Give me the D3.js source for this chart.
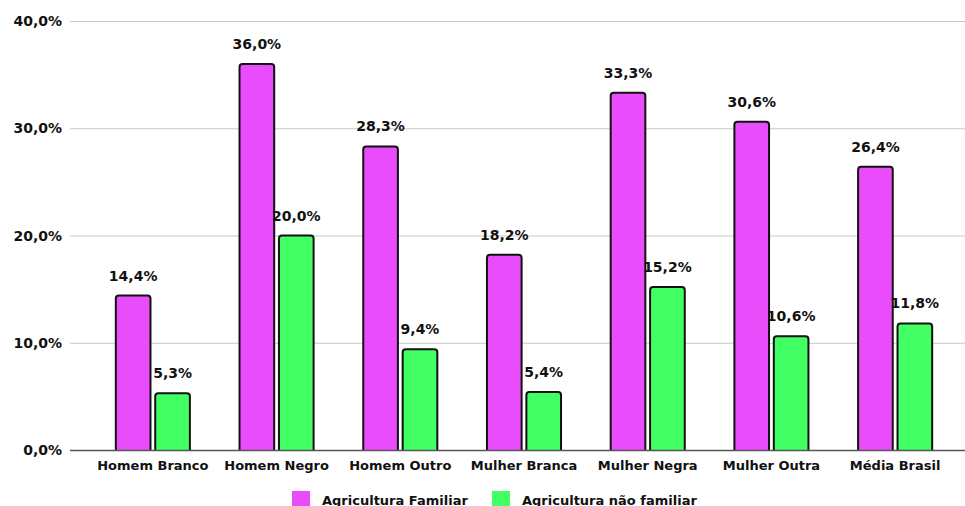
<!DOCTYPE html>
<html>
<head>
<meta charset="utf-8">
<script src="https://cdn.jsdelivr.net/npm/d3@7"></script>
<style>
  html, body { margin: 0; padding: 0; background: #fff; }
  svg { display: block; font-family: "DejaVu Sans", Verdana, sans-serif; font-weight: bold; }
</style>
</head>
<body>
<svg id="chart" width="965" height="506"></svg>
<script>
const categories = ["Homem Branco", "Homem Negro", "Homem Outro", "Mulher Branca", "Mulher Negra", "Mulher Outra", "Média Brasil"];
const seriesNames = ["Agricultura Familiar", "Agricultura não familiar"];
const familiar = [14.4, 36.0, 28.3, 18.2, 33.3, 30.6, 26.4];
const naoFamiliar = [5.3, 20.0, 9.4, 5.4, 15.2, 10.6, 11.8];
const yTicks = [0, 10, 20, 30, 40];
const colors = ["#e84cfb", "#42ff64"];

const seriesValues = [familiar, naoFamiliar];
const fmt = v => v.toFixed(1).replace(".", ",") + "%";

const svg = d3.select("#chart");
const plotLeft = 70, plotRight = 965, plotTop = 21, plotBottom = 450;

const y = d3.scaleLinear().domain([0, 40]).range([plotBottom, plotTop]);
const x0 = d3.scaleBand().domain(categories).range([91, 957]).paddingInner(0.385).paddingOuter(0.1925);
const x1 = d3.scaleBand().domain(seriesNames).range([0, x0.bandwidth()]).paddingInner(0.07);
const color = d3.scaleOrdinal().domain(seriesNames).range(colors);

// horizontal gridlines
svg.append("g").selectAll("line").data(yTicks.filter(t => t > 0)).join("line")
  .attr("x1", plotLeft).attr("x2", plotRight)
  .attr("y1", d => y(d) + 0.5).attr("y2", d => y(d) + 0.5)
  .attr("stroke", "#c8c8c8").attr("stroke-width", 1);

// y-axis labels
svg.append("g").selectAll("text").data(yTicks).join("text")
  .attr("x", 62).attr("y", d => y(d) + 5)
  .attr("text-anchor", "end").attr("font-size", 14).attr("fill", "#111")
  .text(d => fmt(d));

// grouped bars
const groups = svg.append("g").selectAll("g").data(categories).join("g")
  .attr("transform", c => `translate(${x0(c)},0)`);

const items = groups.selectAll("g.bar").data((c, i) => seriesNames.map((s, k) => ({ s, v: seriesValues[k][i] })))
  .join("g").attr("class", "bar");

items.append("path")
  .attr("d", d => {
    const bx = x1(d.s) + 1, bw = x1.bandwidth() - 2;
    const by = y(d.v), r = 3;
    return `M${bx},${plotBottom} V${by + r} Q${bx},${by} ${bx + r},${by} H${bx + bw - r} Q${bx + bw},${by} ${bx + bw},${by + r} V${plotBottom}`;
  })
  .attr("fill", d => color(d.s))
  .attr("stroke", "#111").attr("stroke-width", 2);

items.append("text")
  .attr("x", d => x1(d.s) + x1.bandwidth() / 2)
  .attr("y", d => y(d.v) - 15)
  .attr("text-anchor", "middle").attr("font-size", 14).attr("fill", "#111")
  .text(d => fmt(d.v));

// baseline
svg.append("line")
  .attr("x1", plotLeft).attr("x2", plotRight)
  .attr("y1", plotBottom + 0.5).attr("y2", plotBottom + 0.5)
  .attr("stroke", "#555").attr("stroke-width", 1.5);

// category labels
svg.append("g").selectAll("text").data(categories).join("text")
  .attr("x", c => x0(c) + x0.bandwidth() / 2).attr("y", 470)
  .attr("text-anchor", "middle").attr("font-size", 13).attr("fill", "#111")
  .text(c => c);

// legend
const legendX = [292, 492];
const legend = svg.append("g").selectAll("g").data(seriesNames).join("g")
  .attr("transform", (d, i) => `translate(${legendX[i]},491)`);
legend.append("rect").attr("width", 18).attr("height", 18).attr("fill", d => color(d));
legend.append("text").attr("x", 30).attr("y", 14)
  .attr("font-size", 13).attr("fill", "#111").text(d => d);
</script>
</body>
</html>
